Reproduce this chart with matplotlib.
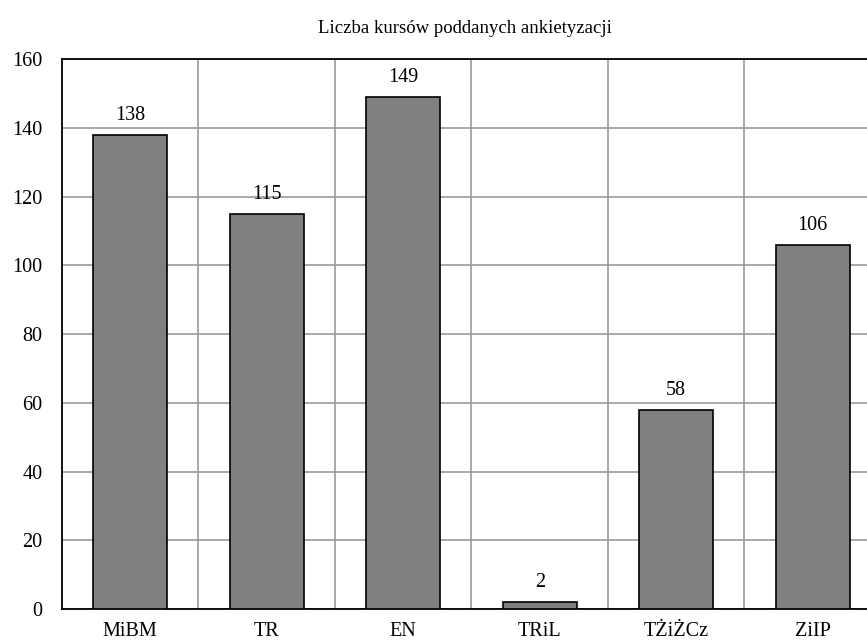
import matplotlib.pyplot as plt

categories = ["MiBM", "TR", "EN", "TRiL", "TŻiŻCz", "ZiIP"]
values = [138, 115, 149, 2, 58, 106]
title = "Liczba kursów poddanych ankietyzacji"

plt.rcParams['font.family'] = ['Liberation Serif', 'DejaVu Serif']

fig = plt.figure(figsize=(8.67, 6.42), dpi=100)
# plot area runs past the right edge of the picture, as in the original
ax = fig.add_axes([0.0715, 0.0514, 0.9446, 0.8567])

x = list(range(len(categories)))
bars = ax.bar(x, values, width=0.54, color="#808080", edgecolor="black", linewidth=1.2, zorder=3)

for xi, v in zip(x, values):
    ax.annotate(str(v), (xi, v), xytext=(0, 7), textcoords="offset points",
                ha="center", va="bottom", fontsize=14.5)

ax.set_xlim(-0.5, len(categories) - 0.5)
ax.set_ylim(0, 160)
ax.set_yticks(range(0, 161, 20))
ax.set_xticks(x)
ax.set_xticklabels(categories)
ax.tick_params(axis="both", length=0, labelsize=14.5)
ax.tick_params(axis="y", pad=14)
ax.tick_params(axis="x", pad=9.5)

# horizontal grid at y ticks, vertical grid between categories
ax.grid(axis="y", color="#999999", linewidth=1.2, zorder=0)
for b in range(1, len(categories)):
    ax.axvline(b - 0.5, color="#999999", linewidth=1.2, zorder=0)

for side in ["left", "top", "bottom"]:
    ax.spines[side].set_color("black")
    ax.spines[side].set_linewidth(1.3)
ax.spines["right"].set_visible(False)

fig.text(0.5365, 0.955, title, ha="center", va="center", fontsize=13.5)

fig.savefig("out.png", dpi=100)
